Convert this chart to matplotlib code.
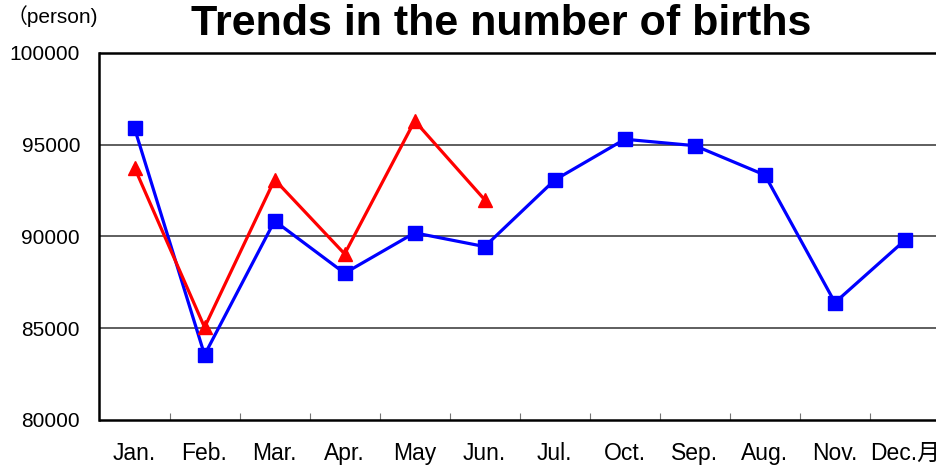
import matplotlib.pyplot as plt
from matplotlib.ticker import FixedLocator, NullFormatter, FixedFormatter

months = ["Jan.", "Feb.", "Mar.", "Apr.", "May", "Jun.", "Jul.",
          "Oct.", "Sep.", "Aug.", "Nov.", "Dec.月"]
births_prev = [95900, 83550, 90850, 88000, 90200, 89450, 93080,
               95300, 94950, 93350, 86400, 89800]
births_curr = [93750, 85050, 93100, 89050, 96300, 92000]

plt.rcParams['font.family'] = ['Liberation Sans', 'Noto Sans CJK JP', 'DejaVu Sans']

fig = plt.figure(figsize=(9.37, 4.67), dpi=100)
ax = fig.add_axes([99.5 / 937, 1 - 420 / 467, 840.5 / 937, 367 / 467])

x_prev = list(range(len(births_prev)))
x_curr = list(range(len(births_curr)))
ax.plot(x_prev, births_prev, color='#0000ff', lw=2.3, marker='s', ms=9.5,
        zorder=3, clip_on=False)
ax.plot(x_curr, births_curr, color='#ff0000', lw=2.3, marker='^', ms=10.5,
        zorder=4, clip_on=False)

ax.set_xlim(-0.5, len(months) - 0.5)
ax.set_ylim(80000, 100000)
ax.set_yticks([80000, 85000, 90000, 95000, 100000])
ax.tick_params(axis='y', length=0, labelsize=15, pad=14)
for v in [85000, 90000, 95000]:
    ax.axhline(v, color='#333333', lw=1.1, zorder=1)

# category boundaries carry the tick marks, labels sit at the centres
ax.xaxis.set_major_locator(FixedLocator([i + 0.5 for i in range(len(months) - 1)]))
ax.xaxis.set_major_formatter(NullFormatter())
ax.xaxis.set_minor_locator(FixedLocator(list(range(len(months)))))
ax.xaxis.set_minor_formatter(FixedFormatter(months))
ax.tick_params(axis='x', which='major', direction='in', length=5, color='#777777')
ax.tick_params(axis='x', which='minor', length=0, labelsize=16.5, pad=16)

for side in ['left', 'bottom', 'top']:
    ax.spines[side].set_linewidth(1.8)
ax.spines['right'].set_visible(False)

fig.text(7 / 937, 1 - 16 / 467, "（person)", fontsize=15, va='center', ha='left')
fig.text(501 / 937, 1 - 35 / 467, "Trends in the number of births",
         fontsize=31, fontweight='bold', ha='center', va='baseline')

fig.savefig('out.png', dpi=100)
